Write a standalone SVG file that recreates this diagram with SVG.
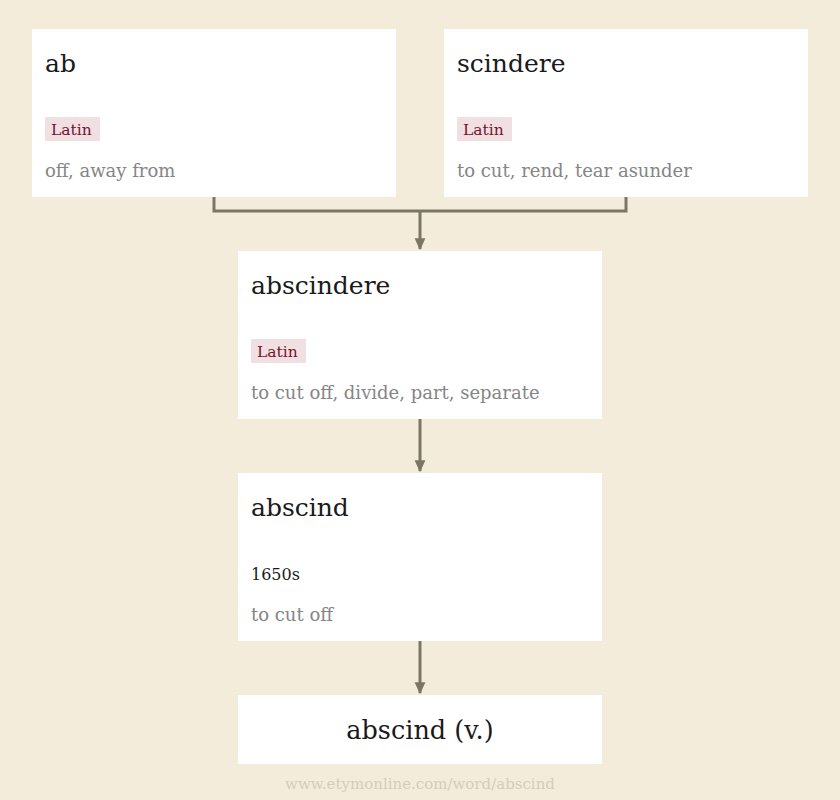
<svg xmlns="http://www.w3.org/2000/svg" width="840" height="800" viewBox="0 0 840 800">
<defs>
<style>
.bg{fill:#f3ecdb}
.box{fill:#ffffff}
.t{font-family:"DejaVu Serif",serif;font-size:25px;fill:#1a1a1a}
.tv{font-family:"DejaVu Serif",serif;font-size:25.5px;fill:#1a1a1a}
.tag{fill:#f1e0e2}
.tagt{font-family:"DejaVu Serif",serif;font-size:15.5px;fill:#7a1030}
.g{font-family:"DejaVu Serif",serif;font-size:18px;fill:#858585}
.d{font-family:"DejaVu Serif",serif;font-size:16px;fill:#1a1a1a}
.c{fill:none;stroke:#7b7665;stroke-width:3}
.foot{font-family:"DejaVu Serif",serif;font-size:15px;fill:#d3ccb9}
</style>
<marker id="ah" viewBox="0 0 10 10" refX="9" refY="5" markerWidth="4" markerHeight="4" markerUnits="strokeWidth" orient="auto">
<path d="M0,0.5 L10,5 L0,9.5 z" fill="#7b7665"/>
</marker>
</defs>
<rect class="bg" x="0" y="0" width="840" height="800"/>
<g id="connectors">
<path class="c" d="M214,197 V211 H626 V197"/>
<path class="c" d="M420,211 V249" marker-end="url(#ah)"/>
<path class="c" d="M420,419 V471" marker-end="url(#ah)"/>
<path class="c" d="M420,641 V693" marker-end="url(#ah)"/>
</g>
<g id="node-ab">
<rect class="box" x="32" y="29" width="364" height="168"/>
<text class="t" x="45" y="72">ab</text>
<rect class="tag" x="45" y="117" width="55" height="24"/>
<text class="tagt" x="51" y="135">Latin</text>
<text class="g" x="45" y="177">off, away from</text>
</g>
<g id="node-scindere">
<rect class="box" x="444" y="29" width="364" height="168"/>
<text class="t" x="457" y="72">scindere</text>
<rect class="tag" x="457" y="117" width="55" height="24"/>
<text class="tagt" x="463" y="135">Latin</text>
<text class="g" x="457" y="177">to cut, rend, tear asunder</text>
</g>
<g id="node-abscindere">
<rect class="box" x="238" y="251" width="364" height="168"/>
<text class="t" x="251" y="294">abscindere</text>
<rect class="tag" x="251" y="339" width="55" height="24"/>
<text class="tagt" x="257" y="357">Latin</text>
<text class="g" x="251" y="399">to cut off, divide, part, separate</text>
</g>
<g id="node-abscind">
<rect class="box" x="238" y="473" width="364" height="168"/>
<text class="t" x="251" y="516">abscind</text>
<text class="d" x="251" y="580">1650s</text>
<text class="g" x="251" y="621">to cut off</text>
</g>
<g id="node-abscind-v">
<rect class="box" x="238" y="695" width="364" height="69"/>
<text class="tv" x="420" y="739" text-anchor="middle">abscind (v.)</text>
</g>
<text class="foot" x="420" y="789" text-anchor="middle">www.etymonline.com/word/abscind</text>
</svg>
